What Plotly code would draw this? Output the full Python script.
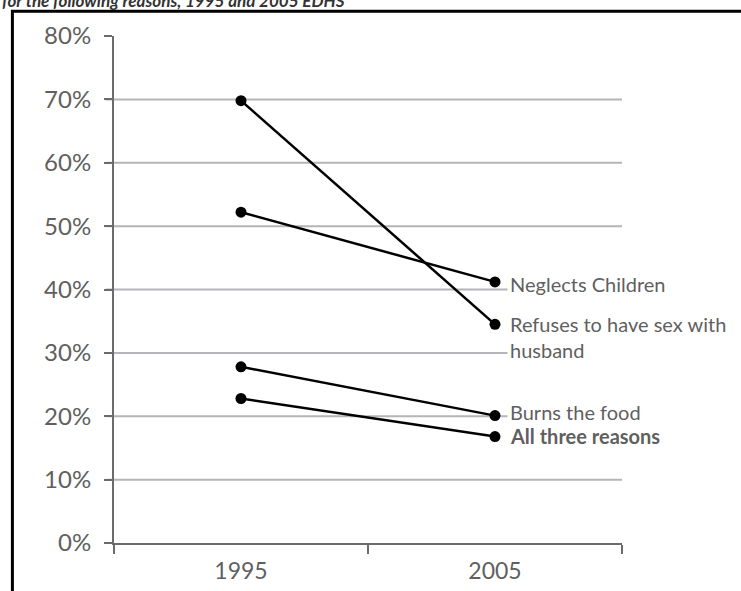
import plotly.graph_objects as go

years = [1995, 2005]
series_names = ["Refuses to have sex with<br>husband", "Neglects Children", "Burns the food", "All three reasons"]
refuses_sex = [69.8, 34.5]
neglects_children = [52.2, 41.2]
burns_food = [27.8, 20.1]
all_three = [22.8, 16.8]
grid_levels = [10, 20, 30, 40, 50, 60, 70]
title_text = "for the following reasons, 1995 and 2005 EDHS"

FONT = "Lato"
TICK_GREY = "#5f5f5f"
AXIS_GREY = "#6b6b6b"
GRID_GREY = "#b5b5b9"

fig = go.Figure()
all_series = [refuses_sex, neglects_children, burns_food, all_three]
for name, vals in zip(series_names, all_series):
    fig.add_trace(go.Scatter(
        x=years, y=vals, mode="lines+markers", name=name,
        line=dict(color="black", width=2.5),
        marker=dict(color="black", size=11),
        showlegend=False, cliponaxis=False,
    ))

shapes = []
for g in grid_levels:
    shapes.append(dict(type="line", xref="paper", yref="y", x0=-0.016, x1=1, y0=g, y1=g,
                       line=dict(color=GRID_GREY, width=2), layer="below"))
# outer frame
shapes.append(dict(type="rect", xref="paper", yref="paper", x0=-0.2, x1=1.5, y0=-0.3, y1=1.049,
                   line=dict(color="black", width=3), fillcolor="rgba(0,0,0,0)"))

annotations = []
label_specs = [
    (series_names[1], neglects_children[1], -2, False),
    (series_names[0], refuses_sex[1], -13, False),
    (series_names[2], burns_food[1], 4, False),
    (series_names[3], all_three[1], 1, True),
]
for text, yv, ys, bold in label_specs:
    annotations.append(dict(
        x=years[1], y=yv, xref="x", yref="y", text=("<b>%s</b>" % text) if bold else text,
        showarrow=False, xanchor="left", yanchor="middle", xshift=12, yshift=ys,
        align="left", bgcolor="white", borderpad=2,
        font=dict(family=FONT, size=20, color=TICK_GREY),
    ))
annotations.append(dict(
    x=-0.224, y=1.046, xref="paper", yref="paper", xanchor="left", yanchor="bottom",
    text="<b><i>%s</i></b>" % title_text, showarrow=False,
    font=dict(family=FONT, size=17, color="#333333"),
))

fig.update_layout(
    width=741, height=591,
    margin=dict(l=114, r=119, t=36, b=48, autoexpand=False),
    paper_bgcolor="white", plot_bgcolor="white",
    shapes=shapes, annotations=annotations,
    xaxis=dict(
        range=[1990, 2010], tickmode="array", tickvals=years, ticktext=[str(y) for y in years],
        ticks="", showgrid=False, zeroline=False, automargin=False,
        showline=True, linecolor=AXIS_GREY, linewidth=2,
        tickfont=dict(family=FONT, size=23, color=TICK_GREY),
        ticklabelstandoff=6,
        minor=dict(tickmode="linear", tick0=1990, dtick=10, ticks="outside", ticklen=9,
                   tickwidth=2, tickcolor=AXIS_GREY, showgrid=False),
    ),
    yaxis=dict(
        range=[0, 80], dtick=10, ticksuffix="%", ticks="outside", ticklen=8, tickwidth=2,
        tickcolor=AXIS_GREY, showgrid=False, zeroline=False, automargin=False,
        showline=True, linecolor=AXIS_GREY, linewidth=2,
        tickfont=dict(family=FONT, size=24, color=TICK_GREY),
        ticklabelstandoff=8,
    ),
)

fig.write_html(
    "out.html",
    config={"displayModeBar": False},
    post_script="document.body.style.margin='0';document.body.style.overflow='hidden';",
)
